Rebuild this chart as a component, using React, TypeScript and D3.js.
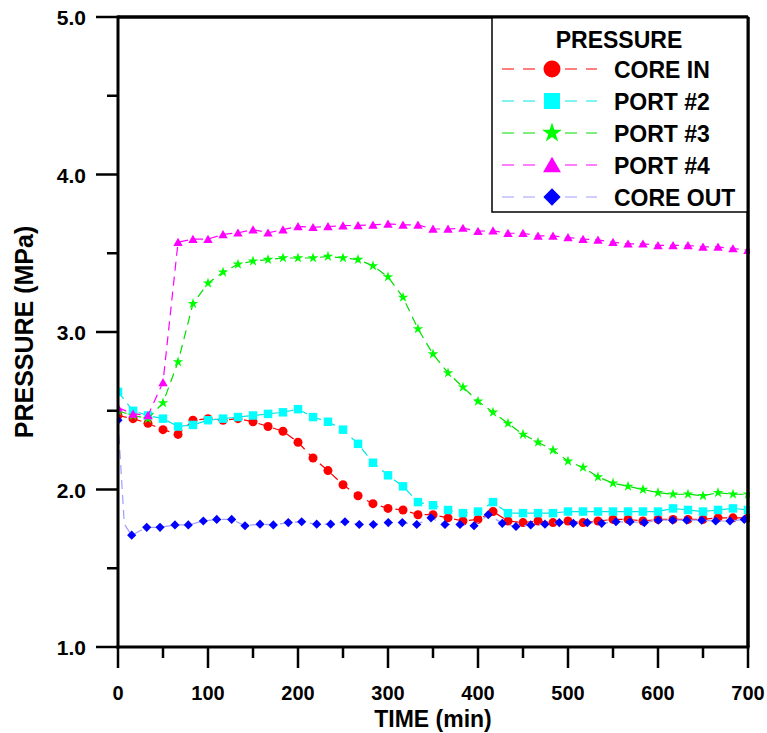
import React from "react";
import * as d3 from "d3";

// ---- data ----
const TIME = [
  0, 16.7, 33.3, 50, 66.7, 83.3, 100, 116.7, 133.3, 150, 166.7, 183.3, 200, 216.7, 233.3,
  250, 266.7, 283.3, 300, 316.7, 333.3, 350, 366.7, 383.3, 400, 416.7, 433.3, 450, 466.7,
  483.3, 500, 516.7, 533.3, 550, 566.7, 583.3, 600, 616.7, 633.3, 650, 666.7, 683.3, 700,
];
const CORE_IN = [
  2.47, 2.45, 2.42, 2.38, 2.35, 2.44, 2.45, 2.44, 2.45, 2.43, 2.4, 2.37, 2.3, 2.2, 2.12,
  2.03, 1.96, 1.91, 1.88, 1.87, 1.84, 1.84, 1.82, 1.8, 1.81, 1.86, 1.8, 1.79, 1.8,
  1.79, 1.8, 1.79, 1.8, 1.81, 1.81, 1.8, 1.81, 1.81, 1.81, 1.81, 1.82, 1.82, 1.82,
];
const PORT_2 = [
  2.62, 2.5, 2.47, 2.45, 2.4, 2.41, 2.44, 2.45, 2.46, 2.47, 2.48, 2.49, 2.51, 2.46, 2.43,
  2.38, 2.29, 2.17, 2.09, 2.02, 1.92, 1.9, 1.87, 1.85, 1.86, 1.92, 1.85, 1.85, 1.85,
  1.85, 1.86, 1.86, 1.86, 1.86, 1.86, 1.86, 1.86, 1.88, 1.87, 1.86, 1.87, 1.88, 1.87,
];
const PORT_3 = [
  2.5, 2.47, 2.45, 2.55, 2.81, 3.18, 3.31, 3.38, 3.43, 3.45, 3.46, 3.47, 3.47, 3.47, 3.48,
  3.47, 3.46, 3.42, 3.35, 3.22, 3.02, 2.86, 2.74, 2.65, 2.56, 2.49, 2.42, 2.35, 2.3,
  2.25, 2.18, 2.14, 2.08, 2.04, 2.02, 2.0, 1.98, 1.97, 1.97, 1.96, 1.98, 1.97, 1.97,
];
const PORT_4 = [
  2.52, 2.48, 2.47, 2.68, 3.57, 3.59, 3.59, 3.62, 3.63, 3.65, 3.63, 3.65, 3.67, 3.665, 3.67,
  3.675, 3.677, 3.68, 3.686, 3.68, 3.68, 3.654, 3.654, 3.66, 3.64, 3.643, 3.627, 3.627, 3.61,
  3.61, 3.6, 3.59, 3.585, 3.57, 3.56, 3.56, 3.55, 3.55, 3.55, 3.54, 3.54, 3.53, 3.52,
];
const CORE_OUT_TIME = [
  0, 7, 15.2, 31.9, 46.7, 63.3, 78.1, 94.8, 109.7, 126.3, 141.1, 157.8, 172.6, 189.2, 204.1,
  220.8, 236.3, 252.2, 268.1, 283.7, 300.3, 315.9, 331.9, 347.8, 363.3, 380, 395.6, 411.4,
  427, 442.2, 458.6, 474.4, 490.3, 505.9, 521.4, 537.4, 553.3, 568.9, 584.8, 600.3, 616.3,
  631.9, 648.6, 664.1, 680, 695.9,
];
const CORE_OUT = [
  2.44, 1.78, 1.71, 1.76, 1.76, 1.775, 1.775, 1.8, 1.81, 1.81, 1.77, 1.78, 1.775, 1.79, 1.795,
  1.78, 1.78, 1.795, 1.778, 1.778, 1.79, 1.79, 1.778, 1.82, 1.778, 1.778, 1.77, 1.84,
  1.785, 1.765, 1.775, 1.78, 1.79, 1.785, 1.79, 1.785, 1.795, 1.795, 1.79, 1.805, 1.805,
  1.805, 1.805, 1.8, 1.8, 1.81,
];
const CORE_OUT_UNMARKED = [1];

const X_MAJOR = [0, 100, 200, 300, 400, 500, 600, 700];
const X_MINOR = [50, 150, 250, 350, 450, 550, 650];
const Y_MAJOR = [1, 2, 3, 4, 5];
const Y_MINOR = [1.5, 2.5, 3.5, 4.5];
const Y_LABELS = ["1.0", "2.0", "3.0", "4.0", "5.0"];

const SERIES_NAMES = ["CORE IN", "PORT #2", "PORT #3", "PORT #4", "CORE OUT"];
const MARKER_COLORS = ["#ff0000", "#00ffff", "#00ff00", "#ff00ff", "#0000ff"];
const LINE_COLORS = ["#ff0000", "#00e5e5", "#00dd00", "#ff00ff", "#9f9fff"];
const SHAPES = ["circle", "square", "star", "triangle", "diamond"];

const FONT = "'Liberation Sans', Arial, Helvetica, sans-serif";

function Marker({ shape, cx, cy, color, s }: { shape: string; cx: number; cy: number; color: string; s: number }) {
  if (shape === "circle") return <circle cx={cx} cy={cy} r={s * 0.5} fill={color} />;
  if (shape === "square")
    return <rect x={cx - s * 0.47} y={cy - s * 0.47} width={s * 0.94} height={s * 0.94} fill={color} />;
  let p: string | null = null;
  if (shape === "star") p = d3.symbol(d3.symbolStar, (s * 0.62) ** 2 / 0.891)();
  if (shape === "triangle") p = d3.symbol(d3.symbolTriangle, (Math.sqrt(3) / 4) * (s * 1.05) ** 2)();
  if (shape === "diamond") p = d3.symbol(d3.symbolSquare, (s * 0.72) ** 2)();
  const rot = shape === "diamond" ? " rotate(45)" : "";
  const dy = shape === "triangle" ? s * 0.12 : 0;
  return <path d={p || ""} transform={`translate(${cx},${cy + dy})${rot}`} fill={color} />;
}

export default function App() {
  const W = 767,
    H = 733;
  const x = d3.scaleLinear().domain([0, 700]).range([118, 748]);
  const y = d3.scaleLinear().domain([1, 5]).range([647, 17]);

  const series = [
    { t: TIME, v: CORE_IN, skip: [] as number[] },
    { t: TIME, v: PORT_2, skip: [] as number[] },
    { t: TIME, v: PORT_3, skip: [] as number[] },
    { t: TIME, v: PORT_4, skip: [] as number[] },
    { t: CORE_OUT_TIME, v: CORE_OUT, skip: CORE_OUT_UNMARKED },
  ];

  const line = d3
    .line<[number, number]>()
    .x((d) => x(d[0]))
    .y((d) => y(d[1]));

  const x0 = x(0),
    x1 = x(700),
    y0 = y(1),
    y1 = y(5);

  const legX = 492,
    legY = 17,
    legW = 256,
    legH = 195;

  return (
    <svg
      width={W}
      height={H}
      style={{ position: "absolute", left: 0, top: 0, background: "#fff" }}
      fontFamily={FONT}
      fontWeight="bold"
    >
      <rect x={0} y={0} width={W} height={H} fill="#fff" />
      <defs>
        <clipPath id="plot">
          <rect x={x0} y={y1} width={x1 - x0 + 2} height={y0 - y1} />
        </clipPath>
      </defs>

      {/* series */}
      <g clipPath="url(#plot)">
        {series.map((s, i) => (
          <g key={SERIES_NAMES[i]}>
            <path
              d={line(s.t.map((t, j) => [t, s.v[j]] as [number, number])) || ""}
              fill="none"
              stroke={LINE_COLORS[i]}
              strokeWidth={1.2}
              strokeDasharray="9,6"
            />
            {s.t.map((t, j) =>
              s.skip.includes(j) ? null : (
                <Marker key={j} shape={SHAPES[i]} cx={x(t)} cy={y(s.v[j])} color={MARKER_COLORS[i]} s={9} />
              )
            )}
          </g>
        ))}
      </g>

      {/* frame */}
      <line x1={x0} x2={x1} y1={y1} y2={y1} stroke="#000" strokeWidth={3} />
      <line x1={x1} x2={x1} y1={y1} y2={y0} stroke="#000" strokeWidth={3} />
      <line x1={x0} x2={x0} y1={y1 - 1.5} y2={y0 + 1.5} stroke="#000" strokeWidth={3} />
      <line x1={x0 - 1.5} x2={x1 + 1.5} y1={y0} y2={y0} stroke="#000" strokeWidth={3} />

      {/* x ticks */}
      {X_MAJOR.map((t) => (
        <g key={"xm" + t}>
          <line x1={x(t)} x2={x(t)} y1={y0} y2={y0 + 21} stroke="#000" strokeWidth={2.5} />
          <text x={x(t)} y={700} textAnchor="middle" fontSize={20}>
            {t}
          </text>
        </g>
      ))}
      {X_MINOR.map((t) => (
        <line key={"xn" + t} x1={x(t)} x2={x(t)} y1={y0} y2={y0 + 11} stroke="#000" strokeWidth={2.5} />
      ))}

      {/* y ticks */}
      {Y_MAJOR.map((v, i) => (
        <g key={"ym" + v}>
          <line x1={x0 - 22} x2={x0} y1={y(v)} y2={y(v)} stroke="#000" strokeWidth={2.5} />
          <text x={86} y={y(v) + 8} textAnchor="end" fontSize={21}>
            {Y_LABELS[i]}
          </text>
        </g>
      ))}
      {Y_MINOR.map((v) => (
        <line key={"yn" + v} x1={x0 - 11} x2={x0} y1={y(v)} y2={y(v)} stroke="#000" strokeWidth={2.5} />
      ))}

      {/* axis titles */}
      <text x={(x0 + x1) / 2} y={727} textAnchor="middle" fontSize={23}>
        TIME (min)
      </text>
      <text transform={`translate(33,${(y0 + y1) / 2}) rotate(-90)`} textAnchor="middle" fontSize={25}>
        PRESSURE (MPa)
      </text>

      {/* legend */}
      <rect x={legX} y={legY} width={legW} height={legH} fill="#fff" stroke="#000" strokeWidth={1.5} />
      <line x1={x0} x2={x1} y1={y1} y2={y1} stroke="#000" strokeWidth={3} />
      <line x1={x1} x2={x1} y1={y1} y2={y0} stroke="#000" strokeWidth={3} />
      <text x={619} y={48} textAnchor="middle" fontSize={23}>
        PRESSURE
      </text>
      {SERIES_NAMES.map((n, i) => {
        const by = 78 + 32 * i;
        const my = by - 9;
        return (
          <g key={"leg" + n}>
            <line x1={502} x2={597} y1={my} y2={my} stroke={LINE_COLORS[i]} strokeWidth={1.2} strokeDasharray="12,9" />
            <rect x={541} y={my - 10} width={22} height={20} fill="#fff" />
            <Marker shape={SHAPES[i]} cx={552} cy={my} color={MARKER_COLORS[i]} s={17} />
            <text x={614} y={by} fontSize={23}>
              {n}
            </text>
          </g>
        );
      })}
    </svg>
  );
}
